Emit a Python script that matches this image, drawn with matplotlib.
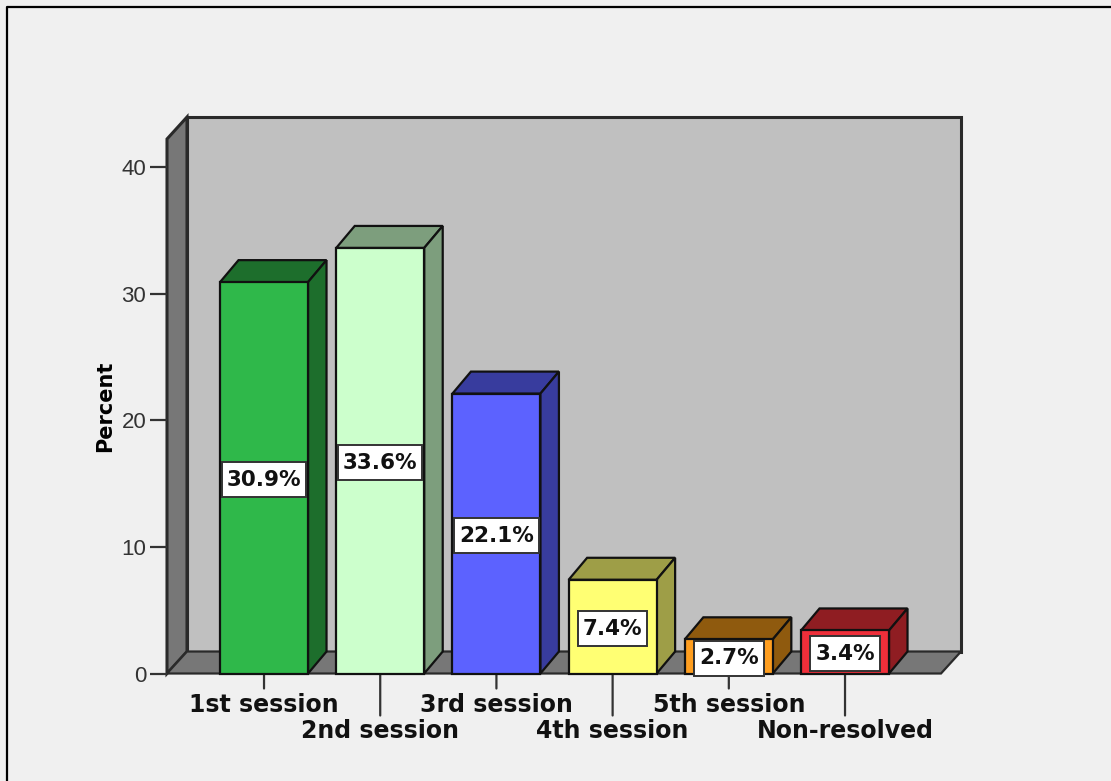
import matplotlib
matplotlib.use("Agg")
import matplotlib.pyplot as plt
from matplotlib.patches import Polygon

categories = ["1st session", "2nd session", "3rd session", "4th session", "5th session", "Non-resolved"]
percents = [30.9, 33.6, 22.1, 7.4, 2.7, 3.4]
labels = ["30.9%", "33.6%", "22.1%", "7.4%", "2.7%", "3.4%"]
front_colors = ["#2FB84A", "#CCFFCC", "#5C62FF", "#FFFF73", "#FF9E1F", "#EE2F3A"]
side_colors = ["#1D6E2C", "#7D9E7D", "#383C9E", "#9E9E47", "#8F5A0E", "#8F1D22"]
yticks = [0, 10, 20, 30, 40]

W, H = 1111, 781
BG = "#F0F0F0"
WALL = "#C0C0C0"
FLOOR = "#777777"

fig = plt.figure(figsize=(W / 100, H / 100), dpi=100, facecolor=BG)

# front plane of the 3d box, in pixels
left, right, bottom, top = 167, 941, 673.5, 139
ax = fig.add_axes([left / W, 1 - bottom / H, (right - left) / W, (bottom - top) / H])
ax.set_xlim(-0.835, 5.826)
ax.set_ylim(0, 42.2)
ax.patch.set_visible(False)
for s in ax.spines.values():
    s.set_visible(False)

dx = 20 / 116.2
dy = 22 / 12.675
bar_dx = 18.5 / 116.2
x0, x1 = ax.get_xlim()
y0, y1 = ax.get_ylim()
bw = 88 / 116.2


def poly(pts, color, z=1, lw=1.6, edge="#111111"):
    ax.add_patch(Polygon(pts, closed=True, facecolor=color, edgecolor=edge,
                         linewidth=lw, zorder=z, clip_on=False, joinstyle="miter"))


# walls
poly([(x0 + dx, y0 + dy), (x1 + dx, y0 + dy), (x1 + dx, y1 + dy), (x0 + dx, y1 + dy)], WALL, 1, 2.2, "#2A2A2A")
poly([(x0, y0), (x0 + dx, y0 + dy), (x0 + dx, y1 + dy), (x0, y1)], FLOOR, 1, 2.2, "#2A2A2A")
poly([(x0, y0), (x1, y0), (x1 + dx, y0 + dy), (x0 + dx, y0 + dy)], FLOOR, 1, 1.6, "#2A2A2A")

# bars
renderer = fig.canvas.get_renderer()
for i, v in enumerate(percents):
    l, r = i - bw / 2, i + bw / 2
    poly([(l, v), (r, v), (r + bar_dx, v + dy), (l + bar_dx, v + dy)], side_colors[i], 3)
    poly([(r, 0), (r + bar_dx, dy), (r + bar_dx, v + dy), (r, v)], side_colors[i], 3)
    poly([(l, 0), (r, 0), (r, v), (l, v)], front_colors[i], 4)
    t = ax.annotate(labels[i], xy=(i, v / 2), xytext=(0, -2), textcoords="offset pixels",
                    ha="center", va="center", fontsize=15.5, fontweight="bold",
                    family="DejaVu Sans", color="#111111", zorder=6)
    # label box is taller than a plain text bbox, so size it from the text width
    half_w = t.get_window_extent(renderer).width / bw / 116.2 * bw / 2 + 5 / 116.2
    cy = v / 2 - 2 / 12.675
    half_h = 17.5 / 12.675
    poly([(i - half_w, cy - half_h), (i + half_w, cy - half_h),
          (i + half_w, cy + half_h), (i - half_w, cy + half_h)], "white", 5, 1.4, "#333333")

ax.set_yticks(yticks)
ax.set_xticks(range(len(categories)))
ax.set_xticklabels([])
ax.tick_params(axis="y", length=12, width=1.6, color="#333333", labelsize=16, labelcolor="#333333", pad=3)
ax.tick_params(axis="x", length=0)
for t in ax.get_yticklabels():
    t.set_family("Liberation Sans")
ax.set_ylabel("Percent", fontsize=15, fontweight="bold", family="DejaVu Sans", va="center")
ax.yaxis.set_label_coords((105 - left) / (right - left), (bottom - 406) / (bottom - top))

# staggered category labels with their tick marks
for i, c in enumerate(categories):
    even = i % 2 == 0
    tick_len = 15 if even else 42
    ax.annotate("", xy=(i, 0), xytext=(0, -tick_len), textcoords="offset pixels",
                arrowprops=dict(arrowstyle="-", color="#333333", lw=1.6, shrinkA=0, shrinkB=0))
    ax.annotate(c, xy=(i, 0), xytext=(0, -31 if even else -58), textcoords="offset pixels",
                ha="center", va="center", fontsize=17, fontweight="bold",
                family="DejaVu Sans", color="#111111")

# outer frame
fig.add_artist(plt.Line2D([7 / W, 7 / W, 1], [0, 1 - 7 / H, 1 - 7 / H], color="black", lw=1.6))

fig.savefig("out.png", dpi=100, facecolor=BG)
